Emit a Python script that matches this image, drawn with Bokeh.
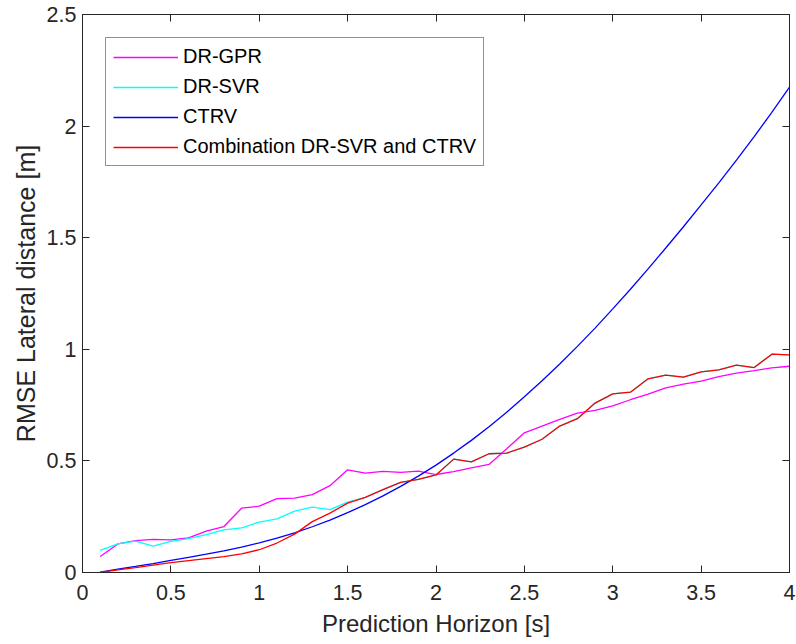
from bokeh.plotting import figure
from bokeh.models import (LinearAxis, Range1d, Legend, LegendItem, FixedTicker,
                          CustomJSTickFormatter, ColumnDataSource)
from bokeh.embed import file_html
from bokeh.resources import INLINE

# ---- data ----
horizon = [0.1, 0.2, 0.3, 0.4, 0.5, 0.6, 0.7, 0.8, 0.9, 1.0,
           1.1, 1.2, 1.3, 1.4, 1.5, 1.6, 1.7, 1.8, 1.9, 2.0,
           2.1, 2.2, 2.3, 2.4, 2.5, 2.6, 2.7, 2.8, 2.9, 3.0,
           3.1, 3.2, 3.3, 3.4, 3.5, 3.6, 3.7, 3.8, 3.9, 4.0]

dr_gpr = [0.072, 0.128, 0.143, 0.148, 0.146, 0.155, 0.185, 0.206, 0.288, 0.297,
          0.331, 0.333, 0.349, 0.389, 0.460, 0.445, 0.453, 0.449, 0.454, 0.439,
          0.452, 0.469, 0.484, 0.554, 0.626, 0.656, 0.686, 0.714, 0.726, 0.747,
          0.774, 0.799, 0.827, 0.844, 0.857, 0.878, 0.893, 0.904, 0.917, 0.924]

dr_svr = [0.099, 0.128, 0.141, 0.118, 0.139, 0.152, 0.170, 0.191, 0.200, 0.226,
          0.240, 0.275, 0.293, 0.282, 0.315, 0.337, 0.371, 0.404, 0.417, 0.437,
          0.508, 0.496, 0.532, 0.535, 0.562, 0.597, 0.656, 0.689, 0.759, 0.800,
          0.808, 0.868, 0.884, 0.875, 0.899, 0.908, 0.929, 0.918, 0.978, 0.975]

ctrv = [0.002, 0.015, 0.027, 0.040, 0.054, 0.068, 0.082, 0.097, 0.114, 0.133,
        0.154, 0.178, 0.205, 0.235, 0.268, 0.304, 0.343, 0.386, 0.432, 0.481,
        0.535, 0.592, 0.653, 0.718, 0.787, 0.859, 0.934, 1.013, 1.095, 1.181,
        1.269, 1.360, 1.454, 1.549, 1.647, 1.746, 1.848, 1.953, 2.062, 2.175]

combination = [0.000, 0.012, 0.022, 0.033, 0.044, 0.053, 0.062, 0.071, 0.083, 0.102,
               0.132, 0.172, 0.228, 0.266, 0.311, 0.337, 0.371, 0.404, 0.417, 0.437,
               0.508, 0.496, 0.532, 0.535, 0.562, 0.597, 0.656, 0.689, 0.759, 0.800,
               0.808, 0.868, 0.884, 0.875, 0.899, 0.908, 0.929, 0.918, 0.978, 0.975]

series_names = ["DR-GPR", "DR-SVR", "CTRV", "Combination DR-SVR and CTRV"]
series_colors = ["#FF00FF", "#00FFFF", "#0000FF", "#FF0000"]

x_ticks = [0, 0.5, 1, 1.5, 2, 2.5, 3, 3.5, 4]
y_ticks = [0, 0.5, 1, 1.5, 2, 2.5]

FONT = "Liberation Sans"
AX = "#262626"

p = figure(width=796, height=644, output_backend="svg", toolbar_location=None,
           x_range=Range1d(0, 4), y_range=Range1d(0, 2.5),
           min_border_left=82, min_border_right=7, min_border_top=14,
           min_border_bottom=72)
p.background_fill_color = "white"
p.border_fill_color = "white"
p.outline_line_color = AX
p.outline_line_width = 1
p.xgrid.visible = False
p.ygrid.visible = False

fmt = CustomJSTickFormatter(code="return String(Math.round(tick*10)/10);")

for ax, ticks in ((p.xaxis[0], x_ticks), (p.yaxis[0], y_ticks)):
    ax.ticker = FixedTicker(ticks=ticks)
    ax.formatter = fmt
    ax.minor_tick_line_color = None
    ax.major_tick_in = 7
    ax.major_tick_out = 0
    ax.axis_line_color = AX
    ax.major_tick_line_color = AX
    ax.major_label_text_font = FONT
    ax.major_label_text_font_size = "21.5px"
    ax.major_label_text_color = AX
    ax.axis_label_text_font = FONT
    ax.axis_label_text_font_style = "normal"
    ax.axis_label_text_color = AX

p.xaxis[0].axis_label = "Prediction Horizon [s]"
p.yaxis[0].axis_label = "RMSE Lateral distance [m]"
p.xaxis[0].axis_label_text_font_size = "24px"
p.yaxis[0].axis_label_text_font_size = "25px"
p.xaxis[0].major_label_standoff = 12
p.xaxis[0].axis_label_standoff = 7
p.yaxis[0].major_label_standoff = 6
p.yaxis[0].axis_label_standoff = 4

# box axes (top/right) with inward ticks and no labels
top = LinearAxis(ticker=FixedTicker(ticks=x_ticks), major_label_text_font_size="1px",
                 major_label_text_color=None, major_label_standoff=0,
                 major_tick_in=7, major_tick_out=0, minor_tick_line_color=None,
                 axis_line_color=AX, major_tick_line_color=AX)
right = LinearAxis(ticker=FixedTicker(ticks=y_ticks), major_label_text_font_size="1px",
                   major_label_text_color=None, major_label_standoff=0,
                   major_tick_in=7, major_tick_out=0, minor_tick_line_color=None,
                   axis_line_color=AX, major_tick_line_color=AX)
p.add_layout(top, "above")
p.add_layout(right, "right")

items = []
for name, ys, col in zip(series_names, [dr_gpr, dr_svr, ctrv, combination], series_colors):
    src = ColumnDataSource(dict(x=horizon, y=ys))
    r = p.line("x", "y", source=src, line_color=col, line_width=1.3)
    items.append(LegendItem(label=name, renderers=[r]))

legend = Legend(items=items, location="top_left", margin=23,
                label_text_font=FONT, label_text_font_size="20px",
                label_text_color="black", glyph_width=65, glyph_height=20,
                label_height=20, label_standoff=5, spacing=7, padding=7,
                border_line_color=AX, border_line_width=1,
                background_fill_color="white", background_fill_alpha=1)
p.add_layout(legend, "center")

open("out.html", "w").write(file_html(p, INLINE))
